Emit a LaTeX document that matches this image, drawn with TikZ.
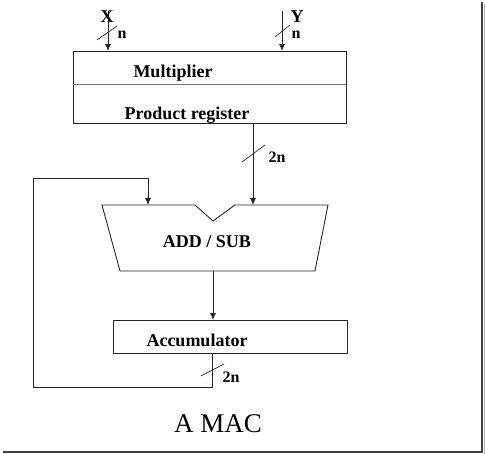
\documentclass[tikz,border=0pt]{standalone}
\usepackage{fontspec}
\setmainfont{Liberation Serif}
\usetikzlibrary{arrows.meta}
\begin{document}
\begin{tikzpicture}[x=1pt,y=-1pt,
  wire/.style={draw=black!85,line width=0.9pt},
  arr/.style={wire,-{Latex[length=7pt,width=6pt]}},
  boxn/.style={draw=black!85,line width=0.9pt,inner sep=0pt,fill=none},
  lbl/.style={font=\bfseries\fontsize{18}{20}\selectfont,inner sep=0pt,anchor=base},
  small/.style={font=\bfseries\fontsize{16}{18}\selectfont,inner sep=0pt,anchor=base},
  slashl/.style={draw=black!85,line width=0.7pt}]
\useasboundingbox (0,0) rectangle (485,454);
% frame shadow
\draw[black!75,line width=2pt] (482,2) -- (482,452) -- (3,452);
\draw[black!30,line width=1pt] (484,4) -- (484,454) -- (5,454);

% labels
\node[lbl] (tmul) at (173,78) {Multiplier};
\node[lbl] (tprod) at (187,120) {Product register};
% boxes
\node[boxn,minimum width=273pt,minimum height=72pt] (mult) at (209.5,87) {};
\coordinate (midL) at (73,84);
\coordinate (midR) at (346,84);
\draw[draw=black!55,line width=0.9pt] (midL) -- (midR);

% inputs
\coordinate (xin) at (108,11);
\coordinate (yin) at (282,11);
\coordinate (xt) at (108,51);
\coordinate (yt) at (282,51);
\draw[arr] (xin) -- (xt);
\draw[arr] (yin) -- (yt);
\node[lbl] (xl) at (107,23) {X};
\node[lbl] (yl) at (297,23) {Y};
\draw[slashl] (97,40) -- (117,26);
\draw[slashl] (275,37) -- (290,25);
\node[small] (nx) at (122,39) {n};
\node[small] (ny) at (296,39) {n};

% adder trapezoid
\coordinate (a1) at (102,205);
\coordinate (a2) at (195,205);
\coordinate (a3) at (213,221);
\coordinate (a4) at (235,205);
\coordinate (a5) at (328,205);
\coordinate (a6) at (315,271);
\coordinate (a7) at (120,271);
\draw[wire,line join=miter] (a1) -- (a2) -- (a3) -- (a4) -- (a5) -- (a6) -- (a7) -- cycle;
\node[lbl] (tadd) at (207,248) {ADD / SUB};

% product -> adder
\coordinate (pout) at (253,123);
\coordinate (ain2) at (253,205);
\draw[arr] (pout) -- (ain2);
\draw[slashl] (242,162) -- (265,145);
\node[small] (n2a) at (277,163) {2n};

% accumulator
\node[boxn,minimum width=234pt,minimum height=33pt] (acc) at (230,336.5) {};
\node[lbl] (tacc) at (197,347) {Accumulator};
\coordinate (aout) at (213,271);
\coordinate (accin) at (213,320);
\draw[arr] (aout) -- (accin);

% feedback
\coordinate (accout) at (212,353);
\coordinate (fb1) at (212,387);
\coordinate (fb2) at (33,387);
\coordinate (fb3) at (33,178);
\coordinate (fb4) at (148,178);
\coordinate (ain1) at (148,205);
\draw[arr] (accout) -- (fb1) -- (fb2) -- (fb3) -- (fb4) -- (ain1);
\draw[slashl] (201,376) -- (224,364);
\node[small] (n2b) at (231,383) {2n};

% caption
\node[font=\fontsize{27}{30}\selectfont,inner sep=0pt,anchor=base] (cap) at (218,433) {A MAC};
\end{tikzpicture}
\end{document}
